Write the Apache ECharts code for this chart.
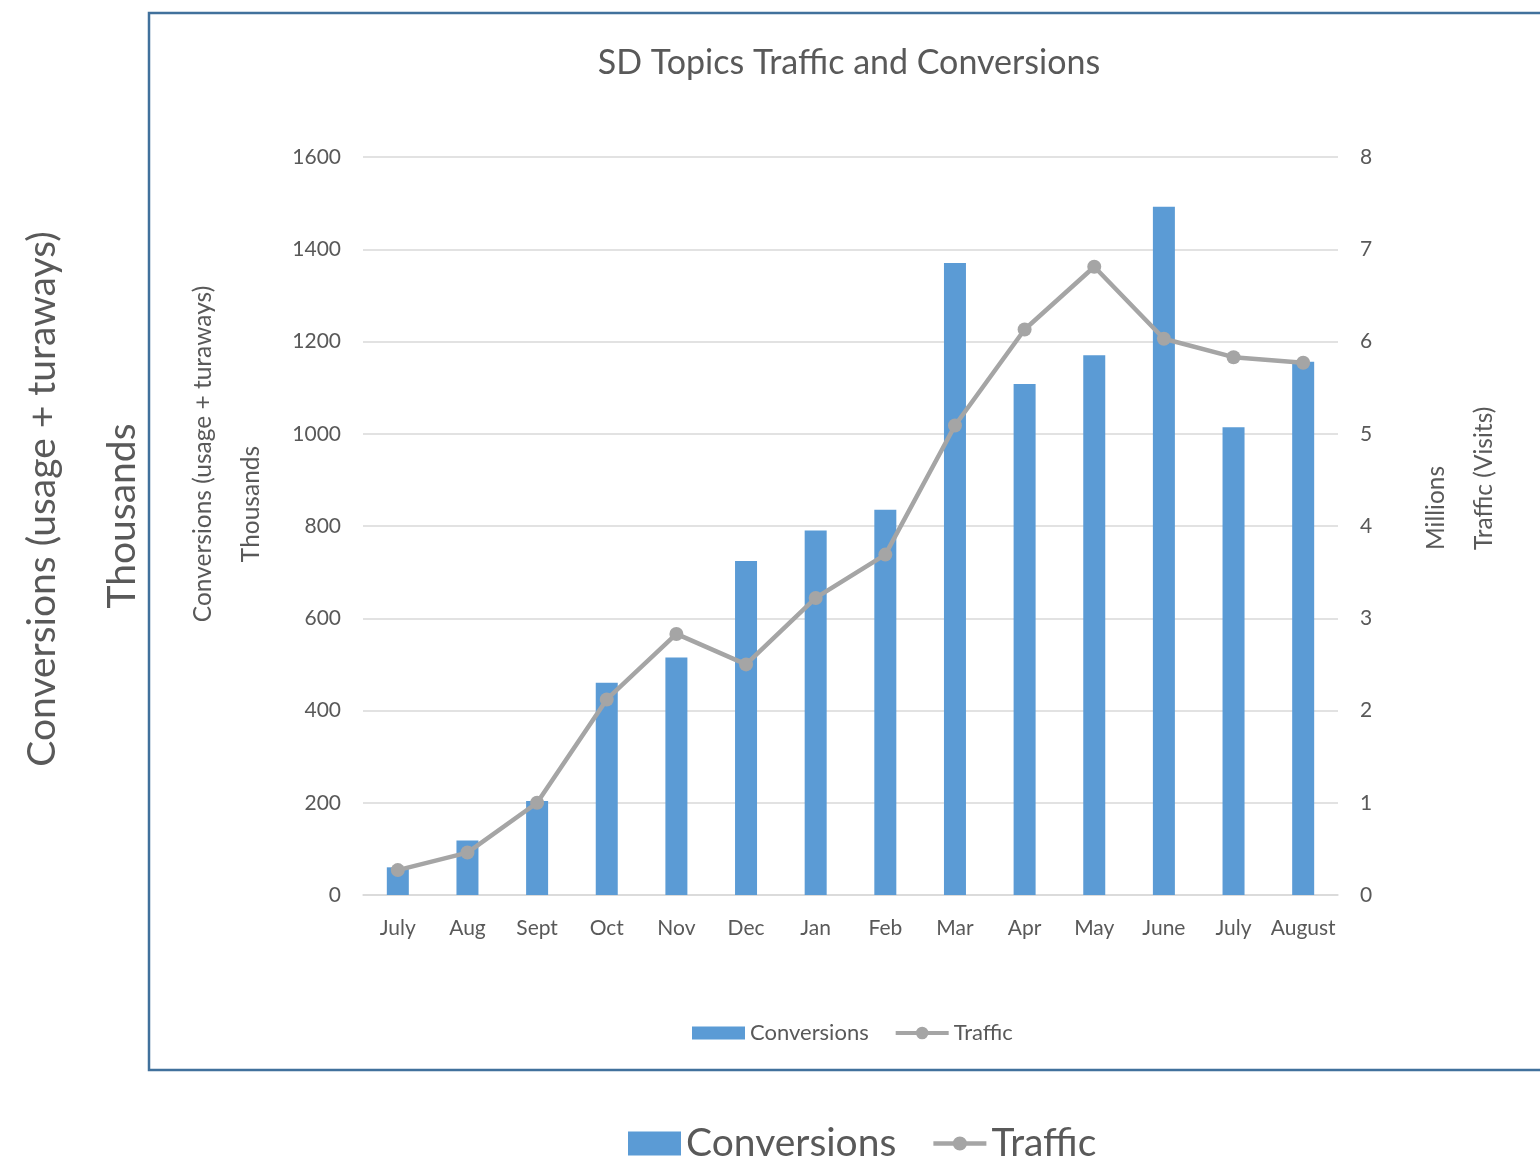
<!DOCTYPE html>
<html>
<head>
<meta charset="utf-8">
<script src="https://cdn.jsdelivr.net/npm/echarts@6/dist/echarts.min.js"></script>
<style>
html,body{margin:0;padding:0;background:#fff;}
#c{width:1540px;height:1159px;}
</style>
</head>
<body>
<div id="c"></div>
<script>
const categories = ['July','Aug','Sept','Oct','Nov','Dec','Jan','Feb','Mar','Apr','May','June','July','August'];
const conversions = [60, 118, 204, 460, 515, 724, 790, 835, 1370, 1108, 1170, 1492, 1014, 1156];
const traffic = [0.27, 0.46, 1.00, 2.12, 2.83, 2.50, 3.22, 3.69, 5.09, 6.13, 6.81, 6.03, 5.83, 5.77];
const titleText = 'SD Topics Traffic and Conversions';
const leftTitle = 'Conversions (usage + turaways)';
const leftUnit = 'Thousands';
const rightTitle = 'Traffic (Visits)';
const rightUnit = 'Millions';

const FONT = 'Lato';
const TXT = '#595959';
const lineIconSmall = 'path://M0,4.5 H55 V8.5 H0 Z M21,6.5 A6.5,6.5 0 1 1 34,6.5 A6.5,6.5 0 1 1 21,6.5 Z';
const lineIconBig = 'path://M0,5.5 H56 V10.5 H0 Z M20.5,8 A7.5,7.5 0 1 1 35.5,8 A7.5,7.5 0 1 1 20.5,8 Z';
const plain = v => String(v);
const chart = echarts.init(document.getElementById('c'), null, {renderer:'canvas'});
chart.setOption({
  backgroundColor:'#ffffff',
  textStyle:{fontFamily:FONT,color:TXT},
  title:{text:titleText,left:844,top:41,textAlign:'center',
    textStyle:{fontFamily:FONT,fontSize:34,fontWeight:'normal',color:TXT}},
  grid:{left:363,right:202,top:157,bottom:264,containLabel:false},
  legend:[
    {data:[{name:'Conversions',icon:'rect'},{name:'Traffic',icon:lineIconSmall}],
     left:692,top:1022,padding:0,itemWidth:53,itemHeight:13,itemGap:27,
     textStyle:{fontFamily:FONT,fontSize:22,color:TXT}},
    {data:[{name:'Conversions',icon:'rect'},{name:'Traffic',icon:lineIconBig}],
     left:628,top:1124,padding:0,itemWidth:53,itemHeight:24,itemGap:37,
     textStyle:{fontFamily:FONT,fontSize:39,color:TXT}}
  ],
  xAxis:{type:'category',data:categories,
    axisLine:{lineStyle:{color:'#D9D9D9',width:1.5}},axisTick:{show:false},
    axisLabel:{fontFamily:FONT,fontSize:21,color:TXT,margin:23,interval:0}},
  yAxis:[
    {type:'value',min:0,max:1600,interval:200,
     axisLine:{show:false},axisTick:{show:false},
     axisLabel:{fontFamily:FONT,fontSize:21,color:TXT,margin:22,formatter:plain},
     splitLine:{lineStyle:{color:'#D9D9D9',width:1.5}}},
    {type:'value',min:0,max:8,interval:1,position:'right',
     axisLine:{show:false},axisTick:{show:false},
     axisLabel:{fontFamily:FONT,fontSize:21,color:TXT,margin:22,formatter:plain},
     splitLine:{show:false}}
  ],
  series:[
    {name:'Conversions',type:'bar',data:conversions,barWidth:22,
     itemStyle:{color:'#5B9BD5'}},
    {name:'Traffic',type:'line',yAxisIndex:1,data:traffic,
     symbol:'circle',symbolSize:14,
     lineStyle:{color:'#A5A5A5',width:4.5},itemStyle:{color:'#A5A5A5'}}
  ],
  graphic:[
    {type:'rect',shape:{x:149,y:13,width:1420,height:1057},
     style:{fill:'none',stroke:'#41719C',lineWidth:2.5},silent:true},
    {type:'text',x:203,y:454,rotation:Math.PI/2,
     style:{text:leftTitle,fontFamily:FONT,fontSize:24.5,fill:TXT,textAlign:'center',textVerticalAlign:'middle'}},
    {type:'text',x:251,y:504,rotation:Math.PI/2,
     style:{text:leftUnit,fontFamily:FONT,fontSize:24.5,fill:TXT,textAlign:'center',textVerticalAlign:'middle'}},
    {type:'text',x:1436,y:550,rotation:Math.PI/2,
     style:{text:rightUnit,fontFamily:FONT,fontSize:24.5,fill:TXT,textAlign:'left',textVerticalAlign:'middle'}},
    {type:'text',x:1484,y:550,rotation:Math.PI/2,
     style:{text:rightTitle,fontFamily:FONT,fontSize:24.5,fill:TXT,textAlign:'left',textVerticalAlign:'middle'}},
    {type:'text',x:42,y:499,rotation:Math.PI/2,
     style:{text:leftTitle,fontFamily:FONT,fontSize:39,fill:TXT,textAlign:'center',textVerticalAlign:'middle'}},
    {type:'text',x:122,y:516,rotation:Math.PI/2,
     style:{text:leftUnit,fontFamily:FONT,fontSize:39,fill:TXT,textAlign:'center',textVerticalAlign:'middle'}}
  ]
});
</script>
</body>
</html>
